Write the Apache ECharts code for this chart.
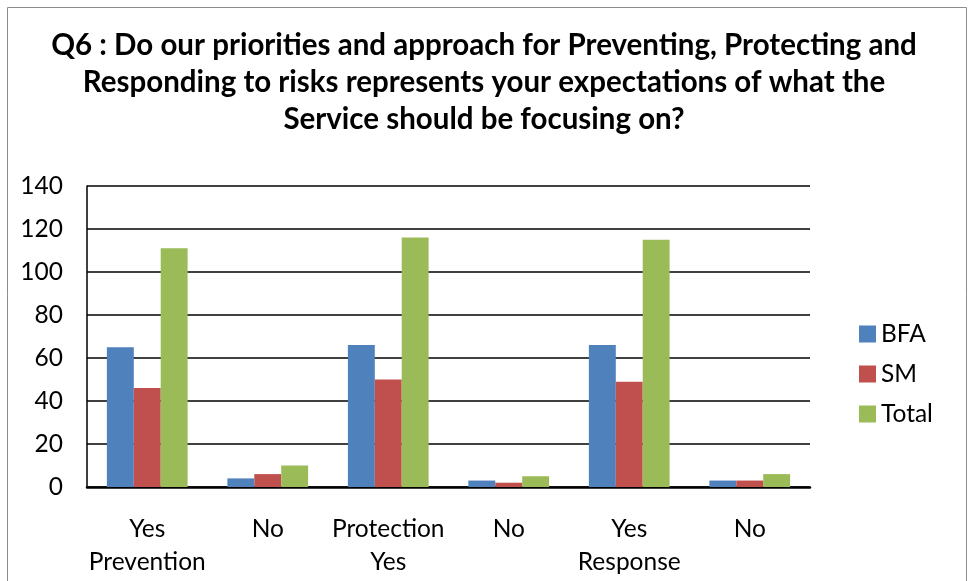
<!DOCTYPE html>
<html>
<head>
<meta charset="utf-8">
<script src="https://cdn.jsdelivr.net/npm/echarts@6/dist/echarts.min.js"></script>
<style>
  html, body { margin: 0; padding: 0; background: #fff; }
  #main { width: 968px; height: 581px; }
</style>
</head>
<body>
<div id="main"></div>
<script>
// categories on the x axis (two-line labels)
var categories = ['Yes\nPrevention', 'No', 'Protection\nYes', 'No', 'Yes\nResponse', 'No'];
// series values
var bfa   = [65, 4, 66, 3, 66, 3];
var sm    = [46, 6, 50, 2, 49, 3];
var total = [111, 10, 116, 5, 115, 6];
var yTicks = { min: 0, max: 140, interval: 20 };

var titleText = 'Q6 : Do our priorities and approach for Preventing, Protecting and\n' +
  'Responding to risks represents your expectations of what the\n' +
  'Service should be focusing on?';

var font = 'Lato, "Open Sans", sans-serif';

function barSeries(name, color, data) {
  return {
    name: name,
    type: 'bar',
    barGap: 0,
    barCategoryGap: '33%',
    itemStyle: { color: color },
    animation: false,
    data: data
  };
}

var myChart = echarts.init(document.getElementById('main'));
var option = {
  backgroundColor: '#fff',
  textStyle: { fontFamily: font },
  graphic: [
    {
      type: 'rect',
      shape: { x: 7.5, y: 7.5, width: 959, height: 600 },
      style: { fill: 'none', stroke: '#8c8c8c', lineWidth: 1 },
      silent: true
    }
  ],
  title: {
    text: titleText,
    left: 'center',
    top: 22,
    textStyle: {
      fontFamily: font,
      fontSize: 29.5,
      fontWeight: 'bold',
      color: '#000',
      lineHeight: 37
    }
  },
  legend: {
    orient: 'vertical',
    left: 854,
    top: 316,
    itemWidth: 17,
    itemHeight: 17,
    itemGap: 14,
    icon: 'rect',
    textStyle: { fontFamily: font, fontSize: 24.5, color: '#000', lineHeight: 26 },
    data: ['BFA', 'SM', 'Total']
  },
  grid: { left: 87, right: 158, top: 186, bottom: 94 },
  xAxis: {
    type: 'category',
    data: categories,
    axisLine: { lineStyle: { color: '#000', width: 2.5 } },
    axisTick: { show: false },
    axisLabel: {
      interval: 0,
      fontFamily: font,
      fontSize: 24.5,
      color: '#000',
      lineHeight: 33,
      margin: 26
    }
  },
  yAxis: {
    type: 'value',
    min: yTicks.min,
    max: yTicks.max,
    interval: yTicks.interval,
    axisLine: { show: true, lineStyle: { color: '#000', width: 1.5 } },
    axisTick: { show: false },
    axisLabel: { fontFamily: font, fontSize: 24.5, color: '#000', margin: 24 },
    splitLine: { lineStyle: { color: '#000', width: 1.5 } }
  },
  series: [
    barSeries('BFA', '#4F81BD', bfa),
    barSeries('SM', '#C0504D', sm),
    barSeries('Total', '#9BBB59', total)
  ]
};
myChart.setOption(option);
</script>
</body>
</html>
